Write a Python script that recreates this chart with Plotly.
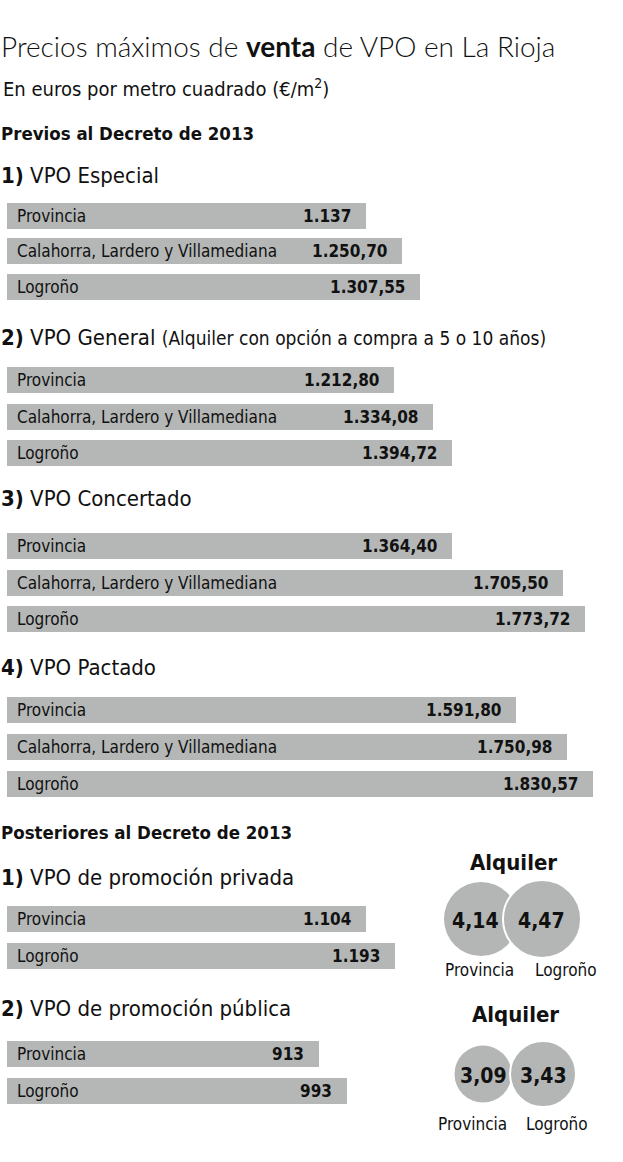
import plotly.graph_objects as go

# ---------------- DATA ----------------
sec1_labels = ["Provincia", "Calahorra, Lardero y Villamediana", "Logroño"]
sec1_values = [1137, 1250.70, 1307.55]
sec2_labels = ["Provincia", "Calahorra, Lardero y Villamediana", "Logroño"]
sec2_values = [1212.80, 1334.08, 1394.72]
sec3_labels = ["Provincia", "Calahorra, Lardero y Villamediana", "Logroño"]
sec3_values = [1364.40, 1705.50, 1773.72]
sec4_labels = ["Provincia", "Calahorra, Lardero y Villamediana", "Logroño"]
sec4_values = [1591.80, 1750.98, 1830.57]
sec5_labels = ["Provincia", "Logroño"]
sec5_values = [1104, 1193]
sec6_labels = ["Provincia", "Logroño"]
sec6_values = [913, 993]
alq1_labels = ["Provincia", "Logroño"]
alq1_values = [4.14, 4.47]
alq2_labels = ["Provincia", "Logroño"]
alq2_values = [3.09, 3.43]

# ---------------- STYLE / LAYOUT ----------------
W, H = 623, 1162
BAR_COLOR = "#b4b7b6"
CIRCLE_COLOR = "#b3b6b5"
TXT = "#111111"
COND = "Liberation Sans Narrow, DejaVu Sans Condensed, Arial Narrow, sans-serif"
TITLE_FONT = "Lato, Open Sans, sans-serif"
X0 = 7          # pixel where bars start
BAR_H = 26

# (labels, values, first bar centre y, spacing, px per unit)
sections = [
    (sec1_labels, sec1_values, 215.5, 35.5, 0.316),
    (sec2_labels, sec2_values, 380.0, 36.5, 0.319),
    (sec3_labels, sec3_values, 546.0, 36.7, 0.326),
    (sec4_labels, sec4_values, 710.0, 37.2, 0.320),
    (sec5_labels, sec5_values, 919.0, 37.0, 0.325),
    (sec6_labels, sec6_values, 1054.0, 37.0, 0.342),
]


def fmt_es(v, dec=None):
    if dec is None:
        dec = 0 if float(v).is_integer() else 2
    s = f"{v:,.{dec}f}"
    return s.replace(",", "X").replace(".", ",").replace("X", ".")


fig = go.Figure()
annotations = []
layout_axes = {}

for i, (labels, values, y0, dy, s) in enumerate(sections):
    axname = "x" if i == 0 else f"x{i+1}"
    laykey = "xaxis" if i == 0 else f"xaxis{i+1}"
    ys = [y0 + k * dy for k in range(len(values))]
    fig.add_trace(go.Bar(
        x=values, y=ys, orientation="h", base=0,
        width=BAR_H, marker=dict(color=BAR_COLOR, line=dict(width=0)),
        xaxis=axname, yaxis="y", hoverinfo="skip", showlegend=False,
    ))
    ax = dict(domain=[0, 1], range=[-X0 / s, (W - X0) / s], visible=False,
              fixedrange=True)
    if i > 0:
        ax["overlaying"] = "x"
    layout_axes[laykey] = ax
    for lab, v, yy in zip(labels, values, ys):
        annotations.append(dict(
            x=0, y=yy, xref=axname, yref="y", text=lab, showarrow=False,
            xanchor="left", yanchor="middle", xshift=8,
            font=dict(family=COND, size=17, color=TXT)))
        annotations.append(dict(
            x=v, y=yy, xref=axname, yref="y", text=f"<b>{fmt_es(v)}</b>",
            showarrow=False, xanchor="right", yanchor="middle", xshift=-13,
            font=dict(family=COND, size=17, color=TXT)))

# circles (Alquiler)
#  (labels, values, circle x, circle y, diameters, value text x, title y, label x, label y)
circle_sets = [
    (alq1_labels, alq1_values, [481, 542], 919, [74, 78], [475, 541], 862, [479, 566], 970),
    (alq2_labels, alq2_values, [483, 543], 1074, [57, 66], [483, 543], 1014, [472, 557], 1124),
]
for labels, values, xs, yc, sizes, tx, ytitle, lx, ylab in circle_sets:
    for k, (lab, v) in enumerate(zip(labels, values)):
        fig.add_trace(go.Scatter(
            x=[xs[k]], y=[yc], mode="markers", xaxis="x7", yaxis="y",
            marker=dict(size=sizes[k], color=CIRCLE_COLOR,
                        line=dict(color="white", width=2 if k > 0 else 0)),
            hoverinfo="skip", showlegend=False, cliponaxis=False))
        annotations.append(dict(
            x=tx[k], y=yc + 2, xref="x7", yref="y",
            text=f"<b>{fmt_es(v, 2)}</b>", showarrow=False,
            xanchor="center", yanchor="middle",
            font=dict(family=COND, size=21, color=TXT)))
    annotations.append(dict(
        x=(xs[0] + xs[1]) / 2 + 2, y=ytitle, xref="x7", yref="y",
        text="<b>Alquiler</b>", showarrow=False, xanchor="center",
        yanchor="middle", font=dict(family=COND, size=22, color=TXT)))
    for k, lab in enumerate(labels):
        annotations.append(dict(
            x=lx[k], y=ylab, xref="x7", yref="y", text=lab,
            showarrow=False, xanchor="center", yanchor="middle",
            font=dict(family=COND, size=17, color=TXT)))

layout_axes["xaxis7"] = dict(domain=[0, 1], range=[0, W], visible=False,
                             overlaying="x", fixedrange=True)

# headings: (y, text, size, family, weight, xshift)
headings = [
    (46, "Precios máximos de <b>venta</b> de VPO en La Rioja", 28, TITLE_FONT, 300, -1),
    (88, "En euros por metro cuadrado (€/m<sup>2</sup>)", 20, COND, 400, 1),
    (133, "<b>Previos al Decreto de 2013</b>", 18.5, COND, 400, -1),
    (175, "<b>1)</b> VPO Especial", 22, COND, 400, -1),
    (337, "<b>2)</b> VPO General <span style='font-size:19px'>(Alquiler con opción a compra a 5 o 10 años)</span>", 22, COND, 400, -1),
    (498, "<b>3)</b> VPO Concertado", 22, COND, 400, -1),
    (667, "<b>4)</b> VPO Pactado", 22, COND, 400, -1),
    (832, "<b>Posteriores al Decreto de 2013</b>", 18.5, COND, 400, -1),
    (877, "<b>1)</b> VPO de promoción privada", 22, COND, 400, -1),
    (1008, "<b>2)</b> VPO de promoción pública", 22, COND, 400, -1),
]
for yy, txt, size, fam, wt, xs_ in headings:
    annotations.append(dict(
        x=0, y=yy, xref="paper", yref="y", text=txt, showarrow=False,
        xanchor="left", yanchor="middle", xshift=xs_,
        font=dict(family=fam, size=size, color=TXT, weight=wt)))

fig.update_layout(
    width=W, height=H, margin=dict(l=0, r=0, t=0, b=0),
    paper_bgcolor="white", plot_bgcolor="white",
    yaxis=dict(range=[H, 0], domain=[0, 1], visible=False, fixedrange=True),
    annotations=annotations, barmode="overlay", bargap=0,
    **layout_axes,
)

fig.write_html("out.html", config={"displayModeBar": False})
